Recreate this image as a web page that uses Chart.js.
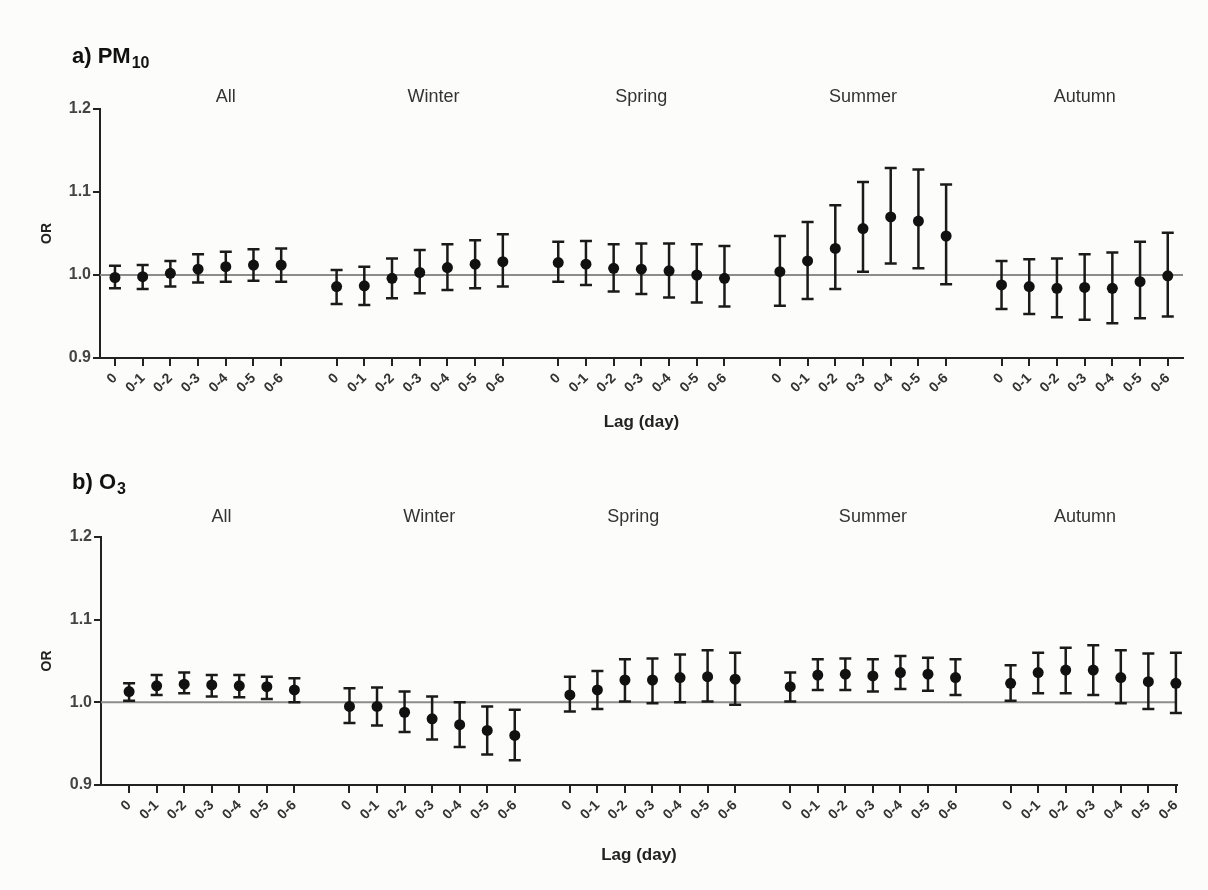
<!DOCTYPE html>
<html>
<head>
<meta charset="utf-8">
<script src="https://cdn.jsdelivr.net/npm/chart.js@4.4.1/dist/chart.umd.min.js"></script>
<style>
  html, body { margin: 0; padding: 0; background: #fcfcfa; }
  #wrap { position: relative; width: 1208px; height: 890px; background: #fcfcfa; }
  canvas { position: absolute; left: 0; }
</style>
</head>
<body>
<div id="wrap">
  <canvas id="c1" width="1208" height="445" style="top:0"></canvas>
  <canvas id="c2" width="1208" height="445" style="top:445px"></canvas>
</div>
<script>
// ---- data ----
const categories = ['0', '0-1', '0-2', '0-3', '0-4', '0-5', '0-6'];
const seasons = ['All', 'Winter', 'Spring', 'Summer', 'Autumn'];
const yTicks = [0.9, 1.0, 1.1, 1.2];

// PM10 (All, Winter, Spring, Summer, Autumn; lags 0..0-6)
const pm10OR = [
  0.997, 0.998, 1.002, 1.007, 1.010, 1.012, 1.012,
  0.986, 0.987, 0.996, 1.003, 1.009, 1.013, 1.016,
  1.015, 1.013, 1.008, 1.007, 1.005, 1.000, 0.996,
  1.004, 1.017, 1.032, 1.056, 1.070, 1.065, 1.047,
  0.988, 0.986, 0.984, 0.985, 0.984, 0.992, 0.999
];
const pm10Lower = [
  0.984, 0.983, 0.986, 0.991, 0.992, 0.993, 0.992,
  0.965, 0.964, 0.972, 0.978, 0.982, 0.984, 0.986,
  0.992, 0.988, 0.980, 0.977, 0.973, 0.967, 0.962,
  0.963, 0.971, 0.983, 1.004, 1.014, 1.008, 0.989,
  0.959, 0.953, 0.949, 0.946, 0.942, 0.948, 0.950
];
const pm10Upper = [
  1.011, 1.012, 1.017, 1.025, 1.028, 1.031, 1.032,
  1.006, 1.010, 1.020, 1.030, 1.037, 1.042, 1.049,
  1.040, 1.041, 1.037, 1.038, 1.038, 1.037, 1.035,
  1.047, 1.064, 1.084, 1.112, 1.129, 1.127, 1.109,
  1.017, 1.019, 1.020, 1.025, 1.027, 1.040, 1.051
];

// O3
const o3OR = [
  1.013, 1.020, 1.022, 1.021, 1.020, 1.019, 1.015,
  0.995, 0.995, 0.988, 0.980, 0.973, 0.966, 0.960,
  1.009, 1.015, 1.027, 1.027, 1.030, 1.031, 1.028,
  1.019, 1.033, 1.034, 1.032, 1.036, 1.034, 1.030,
  1.023, 1.036, 1.039, 1.039, 1.030, 1.025, 1.023
];
const o3Lower = [
  1.002, 1.009, 1.011, 1.007, 1.006, 1.004, 1.000,
  0.975, 0.972, 0.964, 0.955, 0.946, 0.937, 0.930,
  0.989, 0.992, 1.001, 0.999, 1.000, 1.001, 0.997,
  1.001, 1.015, 1.015, 1.013, 1.016, 1.014, 1.009,
  1.002, 1.011, 1.011, 1.009, 0.999, 0.992, 0.987
];
const o3Upper = [
  1.023, 1.033, 1.036, 1.033, 1.033, 1.031, 1.029,
  1.017, 1.018, 1.013, 1.007, 1.000, 0.995, 0.991,
  1.031, 1.038, 1.052, 1.053, 1.058, 1.063, 1.060,
  1.036, 1.052, 1.053, 1.052, 1.056, 1.054, 1.052,
  1.045, 1.060, 1.066, 1.069, 1.063, 1.059, 1.060
];

// ---- helpers ----
const FONT = '"Liberation Sans", Arial, Helvetica, sans-serif';
const nLag = categories.length;
const slotOf = i => Math.floor(i / nLag) * (nLag + 1) + (i % nLag);
const slots = pm10OR.map((_, i) => slotOf(i));

function makePanel(canvasId, cfg) {
  const panelPlugin = {
    id: 'panel_' + canvasId,
    beforeDatasetsDraw(chart) {
      const { ctx, chartArea } = chart;
      const xs = chart.scales.x, ys = chart.scales.y;
      ctx.save();
      // reference line at OR = 1
      const y1 = ys.getPixelForValue(1.0);
      ctx.strokeStyle = '#8c8c8c';
      ctx.lineWidth = 2;
      ctx.beginPath();
      ctx.moveTo(chartArea.left, y1);
      ctx.lineTo(chartArea.right, y1);
      ctx.stroke();
      // error bars
      ctx.strokeStyle = '#1a1a1a';
      ctx.lineWidth = 2.5;
      cfg.or.forEach((v, i) => {
        const x = xs.getPixelForValue(slots[i]);
        const yl = ys.getPixelForValue(cfg.lower[i]);
        const yu = ys.getPixelForValue(cfg.upper[i]);
        ctx.beginPath();
        ctx.moveTo(x, yl); ctx.lineTo(x, yu);
        ctx.moveTo(x - 6, yl); ctx.lineTo(x + 6, yl);
        ctx.moveTo(x - 6, yu); ctx.lineTo(x + 6, yu);
        ctx.stroke();
      });
      ctx.restore();
    },
    afterDraw(chart) {
      const { ctx, chartArea } = chart;
      const xs = chart.scales.x;
      ctx.save();
      // panel title with subscript
      ctx.fillStyle = '#111';
      ctx.textBaseline = 'alphabetic';
      ctx.textAlign = 'left';
      ctx.font = 'bold 22px ' + FONT;
      ctx.fillText(cfg.title, 72, cfg.titleY);
      const w = ctx.measureText(cfg.title).width;
      ctx.font = 'bold 16px ' + FONT;
      ctx.fillText(cfg.titleSub, 72 + w + 1, cfg.titleY + 5);
      // season labels
      ctx.fillStyle = '#333';
      ctx.font = '18px ' + FONT;
      ctx.textAlign = 'center';
      ctx.textBaseline = 'middle';
      seasons.forEach((s, k) => {
        ctx.fillText(s, xs.getPixelForValue(cfg.seasonPos[k]), cfg.seasonY);
      });
      // axis titles
      ctx.fillStyle = '#222';
      ctx.font = 'bold 17px ' + FONT;
      ctx.fillText('Lag (day)', (chartArea.left + chartArea.right) / 2, cfg.lagY);
      ctx.translate(47, (chartArea.top + chartArea.bottom) / 2);
      ctx.rotate(-Math.PI / 2);
      ctx.font = 'bold 14px ' + FONT;
      ctx.fillText('OR', 0, 0);
      ctx.restore();
    }
  };

  return new Chart(document.getElementById(canvasId), {
    type: 'scatter',
    data: {
      datasets: [{
        data: cfg.or.map((v, i) => ({ x: slots[i], y: v })),
        pointRadius: 5.5,
        pointHoverRadius: 5.5,
        backgroundColor: '#111',
        borderWidth: 0,
        clip: false
      }]
    },
    options: {
      responsive: false,
      animation: false,
      events: [],
      layout: { padding: { left: 0, top: cfg.area.top, right: 1208 - cfg.area.right, bottom: 0 } },
      plugins: { legend: { display: false }, tooltip: { enabled: false } },
      scales: {
        x: {
          type: 'linear',
          min: cfg.xMin,
          max: cfg.xMax,
          afterBuildTicks: axis => { axis.ticks = slots.map(v => ({ value: v })); },
          afterFit: s => { s.height = 445 - cfg.area.bottom; },
          ticks: {
            autoSkip: false,
            maxRotation: 45,
            minRotation: 45,
            padding: 4,
            color: '#333',
            font: { family: FONT, size: 14, weight: 'bold' },
            callback: v => categories[Math.round(v) % (nLag + 1)]
          },
          grid: { drawOnChartArea: false, drawTicks: true, tickLength: 8, color: '#222', lineWidth: 2 },
          border: { display: true, color: '#222', width: 2 }
        },
        y: {
          min: 0.9,
          max: 1.2,
          afterBuildTicks: axis => { axis.ticks = yTicks.map(v => ({ value: v })); },
          afterFit: s => { s.width = cfg.area.left; },
          ticks: {
            padding: 2,
            color: '#444',
            font: { family: FONT, size: 16, weight: 'bold' },
            callback: v => v.toFixed(1)
          },
          grid: { drawOnChartArea: false, drawTicks: true, tickLength: 7, color: '#222', lineWidth: 2 },
          border: { display: true, color: '#222', width: 2 }
        }
      }
    },
    plugins: [panelPlugin]
  });
}

makePanel('c1', {
  or: pm10OR, lower: pm10Lower, upper: pm10Upper,
  title: 'a) PM', titleSub: '10', titleY: 63,
  area: { left: 100, right: 1183, top: 109, bottom: 358 },
  xMin: -0.54, xMax: 38.55,
  seasonPos: [4, 11.5, 19, 27, 35], seasonY: 97, lagY: 422
});

makePanel('c2', {
  or: o3OR, lower: o3Lower, upper: o3Upper,
  title: 'b) O', titleSub: '3', titleY: 489 - 445,
  area: { left: 101, right: 1177, top: 537 - 445, bottom: 785 - 445 },
  xMin: -1.02, xMax: 38.04,
  seasonPos: [3.35, 10.9, 18.3, 27, 34.7], seasonY: 517 - 445, lagY: 855 - 445
});
</script>
</body>
</html>
